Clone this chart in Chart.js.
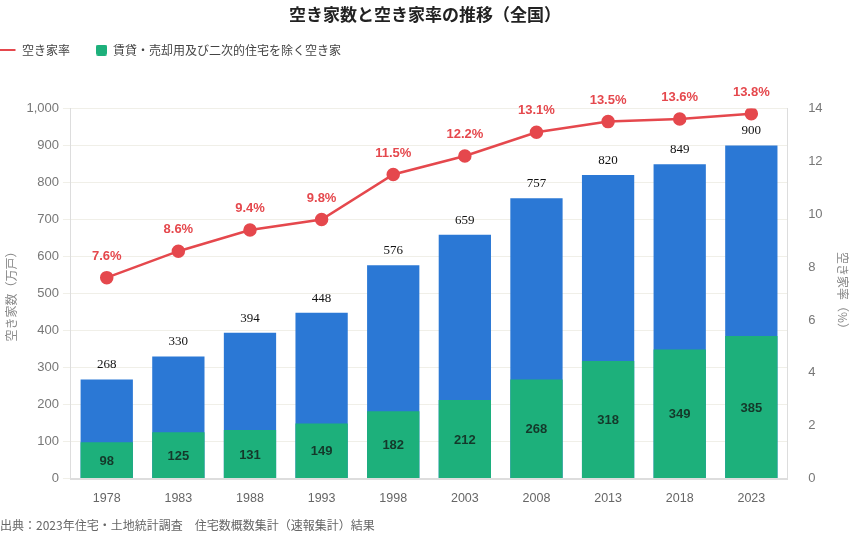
<!DOCTYPE html>
<html><head><meta charset="utf-8">
<script src="https://cdn.jsdelivr.net/npm/chart.js@4/dist/chart.umd.min.js"></script>
<style>html,body{margin:0;padding:0;background:#fff}#wrap{width:850px;height:540px}</style>
</head><body><div id="wrap"><canvas id="c" width="850" height="540"></canvas></div>
<script>
const years = ['1978','1983','1988','1993','1998','2003','2008','2013','2018','2023'];
const totalVacant = [268,330,394,448,576,659,757,820,849,900];
const rentalSaleExcluded = [98,125,131,149,182,212,268,318,349,385];
const vacancyRate = [7.6,8.6,9.4,9.8,11.5,12.2,13.1,13.5,13.6,13.8];
const leftTicksMax = 1000, rightTicksMax = 14;

const FONT = '"Noto Sans CJK JP","Noto Sans",sans-serif';
const NUMFONT = '"Liberation Sans",Arial,sans-serif';
const RED = '#e5484d', BLUE = '#2b78d5', GREEN = '#1db07b';

function lineMarker() {
  const c = document.createElement('canvas'); c.width = 22; c.height = 4;
  const g = c.getContext('2d'); g.fillStyle = RED; g.fillRect(0, 1, 16, 2); return c;
}
function squareMarker() {
  const c = document.createElement('canvas'); c.width = 11; c.height = 11;
  const g = c.getContext('2d'); g.fillStyle = GREEN; g.beginPath();
  if (g.roundRect) g.roundRect(0, 0, 11, 11, 2); else g.rect(0, 0, 11, 11);
  g.fill(); return c;
}
const LEG_PAD = 26;

const legendPos = {
  id: 'legendPos',
  beforeInit(chart) {
    const lg = chart.legend;
    if (lg) {
      const orig = lg.fit;
      lg.fit = function () { orig.call(this); this.height = 73; };
    }
  },
  afterLayout(chart) {
    const lg = chart.legend;
    if (lg) { lg.left = 5 - LEG_PAD; lg.top = 50 - LEG_PAD - 6; }
  }
};

const labelPlugin = {
  id: 'valueLabels',
  afterDatasetsDraw(chart) {
    const ctx = chart.ctx;
    ctx.save();
    ctx.textAlign = 'center';
    const mTot = chart.getDatasetMeta(2);
    ctx.fillStyle = '#111';
    ctx.font = '13px "Liberation Serif","DejaVu Serif",serif';
    ctx.textBaseline = 'bottom';
    mTot.data.forEach((el, i) => ctx.fillText(String(totalVacant[i]), el.x, el.y - 8));
    const mG = chart.getDatasetMeta(1);
    ctx.fillStyle = '#14382a';
    ctx.font = 'bold 13px ' + NUMFONT;
    ctx.textBaseline = 'middle';
    mG.data.forEach((el, i) => ctx.fillText(String(rentalSaleExcluded[i]), el.x, (el.y + el.base) / 2 + 1));
    const mL = chart.getDatasetMeta(0);
    ctx.fillStyle = RED;
    ctx.font = 'bold 13px ' + NUMFONT;
    ctx.textBaseline = 'bottom';
    mL.data.forEach((el, i) => ctx.fillText(vacancyRate[i].toFixed(1) + '%', el.x, el.y - 15));
    ctx.restore();
  }
};

new Chart(document.getElementById('c'), {
  data: {
    labels: years,
    datasets: [
      { type: 'line', label: '空き家率', data: vacancyRate, yAxisID: 'yR', borderColor: RED, backgroundColor: RED,
        borderWidth: 2.5, pointRadius: 5.5, pointHoverRadius: 6, pointBackgroundColor: RED, pointBorderColor: RED,
        pointStyle: 'circle', order: 0 },
      { type: 'bar', label: '賃貸・売却用及び二次的住宅を除く空き家', data: rentalSaleExcluded, yAxisID: 'y',
        backgroundColor: GREEN, order: 1, categoryPercentage: 1, barPercentage: 0.73 },
      { type: 'bar', label: '空き家数', data: totalVacant, yAxisID: 'y',
        backgroundColor: BLUE, order: 2, categoryPercentage: 1, barPercentage: 0.73 }
    ]
  },
  options: {
    responsive: false, animation: false,
    layout: { padding: 0 },
    plugins: {
      title: { display: true, text: '空き家数と空き家率の推移（全国）', color: '#222',
        font: { family: FONT, size: 17, weight: 'bold' }, padding: { top: 4, bottom: 11 } },
      subtitle: { display: true, position: 'bottom', align: 'start', text: '出典：2023年住宅・土地統計調査　住宅数概数集計（速報集計）結果',
        color: '#666', font: { family: FONT, size: 12 }, padding: { top: 9, bottom: 7 } },
      legend: { position: 'top', align: 'start',
        labels: { filter: (it) => it.datasetIndex !== 2, usePointStyle: true, boxHeight: 11, boxWidth: 11,
          font: { family: FONT, size: 12 }, color: '#444', padding: LEG_PAD,
          generateLabels(chart) {
            const items = Chart.defaults.plugins.legend.labels.generateLabels(chart);
            items.forEach(it => {
              it.pointStyle = it.datasetIndex === 0 ? lineMarker() : squareMarker();
            });
            return items;
          } } },
      tooltip: { enabled: false }
    },
    scales: {
      x: { stacked: true, grid: { display: false }, border: { color: '#ddd', width: 2 },
        ticks: { color: '#666', font: { family: NUMFONT, size: 12.5 }, padding: 4 } },
      y: { position: 'left', min: 0, max: leftTicksMax, stacked: false,
        ticks: { stepSize: 100, color: '#777', font: { family: NUMFONT, size: 13 }, padding: 4 },
        grid: { color: '#f0efe8', drawTicks: true, tickLength: 8 }, border: { color: '#ddd', width: 1 },
        title: { display: true, text: '空き家数（万戸）', color: '#888', font: { family: FONT, size: 12 }, padding: 4 } },
      yR: { position: 'right', min: 0, max: rightTicksMax,
        ticks: { stepSize: 2, color: '#777', font: { family: NUMFONT, size: 13 }, padding: 13 },
        grid: { display: false }, border: { color: '#ddd', width: 1 },
        title: { display: true, text: '空き家率（%）', color: '#888', font: { family: FONT, size: 12 }, padding: 0 } }
    }
  },
  plugins: [legendPos, labelPlugin]
});
</script></body></html>
